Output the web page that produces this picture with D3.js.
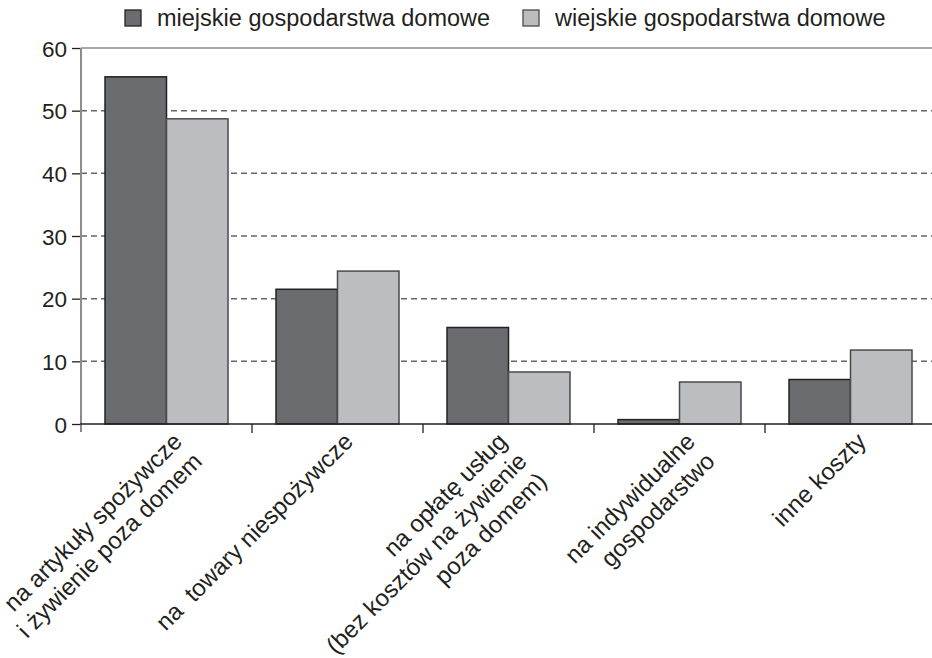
<!DOCTYPE html>
<html>
 <head>
  <meta charset="UTF-8">
  <title>Wydatki gospodarstw domowych</title>
  <style>
    body { margin: 0; background: #fff; }
    svg text { font-family: "Liberation Sans", Arial, sans-serif; fill: #231f20; white-space: pre; }
  </style>
 </head>
 <body>
<div id="viz-wrapper"></div>
 <script src="https://d3js.org/d3.v7.min.js" charset="utf-8"></script>
 <script type="text/javascript">
    // data
    var categories = [
      "na artykuły spożywcze\ni żywienie poza domem",
      "na  towary niespożywcze",
      "na opłatę usług\n(bez kosztów na żywienie\npoza domem)",
      "na indywidualne\ngospodarstwo",
      "inne koszty"
    ];
    var seriesNames = ["miejskie gospodarstwa domowe", "wiejskie gospodarstwa domowe"];
    var miejskie = [55.4, 21.5, 15.4, 0.7, 7.1];
    var wiejskie = [48.7, 24.4, 8.3, 6.7, 11.8];
    var yTicks = [0, 10, 20, 30, 40, 50, 60];

    var width = 932, height = 658;
    var plotLeft = 81, plotRight = 936, plotTop = 48, plotBottom = 424;
    var fills = ["#6b6c70", "#bcbdc1"];
    var strokes = ["#222", "#4a4a4a"];

    var svg = d3.select("#viz-wrapper")
                .append("svg")
                .attr("width", width)
                .attr("height", height);

    var x = d3.scaleBand().domain(d3.range(categories.length)).range([plotLeft, plotRight]);
    var xSub = d3.scaleBand().domain([0, 1]).range([24, x.bandwidth() - 24]);
    var y = d3.scaleLinear().domain([0, 60]).range([plotBottom, plotTop]);

    // dashed grid lines
    svg.append("g")
       .selectAll("line")
       .data(yTicks.filter(function(d) { return d > 0 && d < 60; }))
       .enter().append("line")
       .attr("x1", plotLeft).attr("x2", plotRight)
       .attr("y1", function(d) { return y(d); })
       .attr("y2", function(d) { return y(d); })
       .attr("stroke", "#666")
       .attr("stroke-width", 1.5)
       .attr("stroke-dasharray", "6,4");

    // top frame line
    svg.append("line")
       .attr("x1", plotLeft).attr("x2", plotRight)
       .attr("y1", y(60)).attr("y2", y(60))
       .attr("stroke", "#8c8c8c").attr("stroke-width", 1.5);

    // bars
    var rows = categories.map(function(c, i) { return [miejskie[i], wiejskie[i]]; });
    var groups = svg.append("g")
       .selectAll("g")
       .data(rows)
       .enter().append("g")
       .attr("transform", function(d, i) { return "translate(" + x(i) + ",0)"; });

    groups.selectAll("rect")
       .data(function(d) { return d; })
       .enter().append("rect")
       .attr("x", function(d, j) { return xSub(j); })
       .attr("y", function(d) { return y(d); })
       .attr("width", xSub.bandwidth())
       .attr("height", function(d) { return y(0) - y(d); })
       .attr("fill", function(d, j) { return fills[j]; })
       .attr("stroke", function(d, j) { return strokes[j]; })
       .attr("stroke-width", 1.5);

    // y axis
    var yAxis = svg.append("g")
       .attr("transform", "translate(" + plotLeft + ",0)")
       .call(d3.axisLeft(y).tickValues(yTicks).tickSize(9).tickPadding(5));
    yAxis.select(".domain").remove();
    yAxis.selectAll(".tick line").attr("stroke", "#231f20").attr("stroke-width", 1.3);
    yAxis.selectAll(".tick text")
       .style("font-size", "22.5px")
       .attr("fill", "#231f20")
       .attr("dy", "0.36em");
    svg.append("line")
       .attr("x1", plotLeft).attr("x2", plotLeft)
       .attr("y1", plotTop).attr("y2", plotBottom + 8)
       .attr("stroke", "#8c8c8c").attr("stroke-width", 2);

    // baseline and category ticks
    svg.append("line")
       .attr("x1", plotLeft - 1).attr("x2", plotRight)
       .attr("y1", y(0)).attr("y2", y(0))
       .attr("stroke", "#231f20").attr("stroke-width", 1.5);
    svg.append("g")
       .selectAll("line")
       .data(d3.range(1, categories.length + 1))
       .enter().append("line")
       .attr("x1", function(i) { return plotLeft + i * x.step(); })
       .attr("x2", function(i) { return plotLeft + i * x.step(); })
       .attr("y1", y(0)).attr("y2", y(0) + 9)
       .attr("stroke", "#231f20").attr("stroke-width", 1.3);

    // rotated category labels (three-line label sits a little further left)
    svg.append("g")
       .selectAll("text")
       .data(categories)
       .enter().append("text")
       .attr("transform", function(d, i) {
          var n = d.split("\n").length;
          var shift = 17 - Math.max(0, n - 2) * 17;
          return "translate(" + (x(i) + x.bandwidth() / 2 + shift) + "," + (plotBottom + 19) + ") rotate(-45)";
       })
       .attr("text-anchor", "end")
       .style("font-size", "24px")
       .each(function(d) {
          var t = d3.select(this);
          d.split("\n").forEach(function(line, k) {
             t.append("tspan").attr("x", 0).attr("y", k * 28).text(line);
          });
       });

    // legend
    var legendX = [125, 523];
    var legend = svg.append("g")
       .selectAll("g")
       .data(seriesNames)
       .enter().append("g")
       .attr("transform", function(d, i) { return "translate(" + legendX[i] + ",10)"; });
    legend.append("rect")
       .attr("width", 16).attr("height", 16)
       .attr("fill", function(d, i) { return fills[i]; })
       .attr("stroke", function(d, i) { return strokes[i]; })
       .attr("stroke-width", 1.3);
    legend.append("text")
       .attr("x", 32).attr("y", 16)
       .style("font-size", "23.5px")
       .text(function(d) { return d; });
 </script>
 </body>
</html>
